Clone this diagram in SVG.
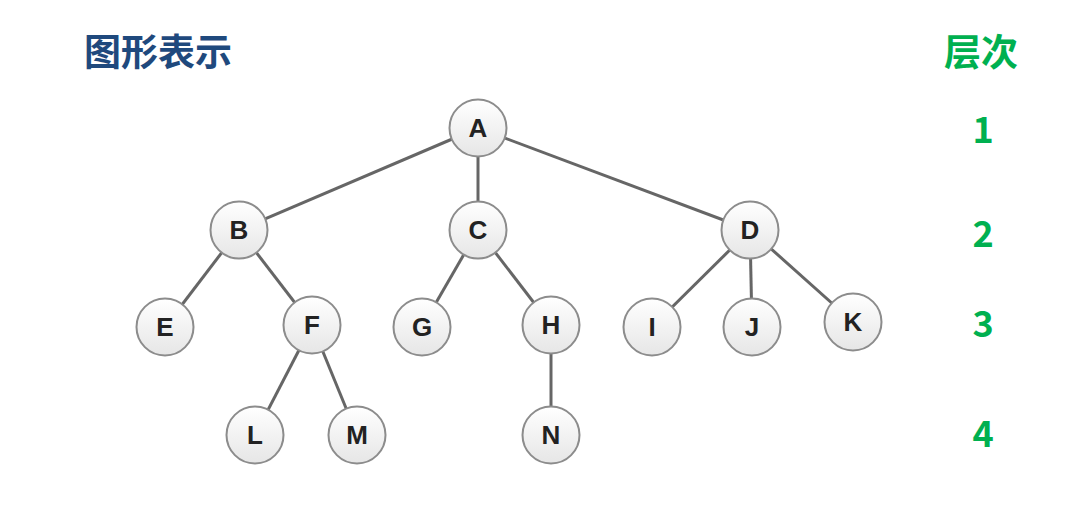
<svg xmlns="http://www.w3.org/2000/svg" width="1072" height="510" viewBox="0 0 1072 510">
<defs>
<linearGradient id="g" x1="0" y1="0" x2="0" y2="1">
<stop offset="0" stop-color="#ffffff"/>
<stop offset="1" stop-color="#e6e6e6"/>
</linearGradient>
<style>
.n circle{fill:url(#g);stroke:#8c8c8c;stroke-width:2}
.n text{font-family:"Liberation Sans",Arial,sans-serif;font-weight:bold;font-size:26px;fill:#222;text-anchor:middle;dominant-baseline:central}
.e line{stroke:#666;stroke-width:3}
.t{font-family:"Noto Sans CJK SC",sans-serif;font-weight:bold;font-size:37px}
.lv{font-family:"Noto Sans CJK SC",sans-serif;font-weight:bold;font-size:36px;fill:#00b050;text-anchor:middle}
</style>
</defs>
<rect width="1072" height="510" fill="#fff"/>
<text class="t" x="84" y="66" fill="#1f497d">图形表示</text>
<text class="t" x="944" y="66" fill="#00b050">层次</text>
<g id="levels">
<text class="lv" x="983" y="143">1</text>
<text class="lv" x="983" y="247">2</text>
<text class="lv" x="983" y="337">3</text>
<text class="lv" x="983" y="447">4</text>
</g>
<g id="edges" class="e">
<line x1="478" y1="128" x2="239" y2="230"/>
<line x1="478" y1="128" x2="478" y2="230"/>
<line x1="478" y1="128" x2="750" y2="230"/>
<line x1="239" y1="230" x2="165" y2="327"/>
<line x1="239" y1="230" x2="312" y2="325"/>
<line x1="478" y1="230" x2="422" y2="327"/>
<line x1="478" y1="230" x2="551" y2="325"/>
<line x1="750" y1="230" x2="652" y2="327"/>
<line x1="750" y1="230" x2="752" y2="327"/>
<line x1="750" y1="230" x2="853" y2="322"/>
<line x1="312" y1="325" x2="255" y2="435"/>
<line x1="312" y1="325" x2="357" y2="435"/>
<line x1="551" y1="325" x2="551" y2="435"/>
</g>
<g id="A" class="n"><circle cx="478" cy="128" r="28.5"/><text x="478" y="128">A</text></g>
<g id="B" class="n"><circle cx="239" cy="230" r="28.5"/><text x="239" y="230">B</text></g>
<g id="C" class="n"><circle cx="478" cy="230" r="28.5"/><text x="478" y="230">C</text></g>
<g id="D" class="n"><circle cx="750" cy="230" r="28.5"/><text x="750" y="230">D</text></g>
<g id="E" class="n"><circle cx="165" cy="327" r="28.5"/><text x="165" y="327">E</text></g>
<g id="F" class="n"><circle cx="312" cy="325" r="28.5"/><text x="312" y="325">F</text></g>
<g id="G" class="n"><circle cx="422" cy="327" r="28.5"/><text x="422" y="327">G</text></g>
<g id="H" class="n"><circle cx="551" cy="325" r="28.5"/><text x="551" y="325">H</text></g>
<g id="I" class="n"><circle cx="652" cy="327" r="28.5"/><text x="652" y="327">I</text></g>
<g id="J" class="n"><circle cx="752" cy="327" r="28.5"/><text x="752" y="327">J</text></g>
<g id="K" class="n"><circle cx="853" cy="322" r="28.5"/><text x="853" y="322">K</text></g>
<g id="L" class="n"><circle cx="255" cy="435" r="28.5"/><text x="255" y="435">L</text></g>
<g id="M" class="n"><circle cx="357" cy="435" r="28.5"/><text x="357" y="435">M</text></g>
<g id="N" class="n"><circle cx="551" cy="435" r="28.5"/><text x="551" y="435">N</text></g>
</svg>
